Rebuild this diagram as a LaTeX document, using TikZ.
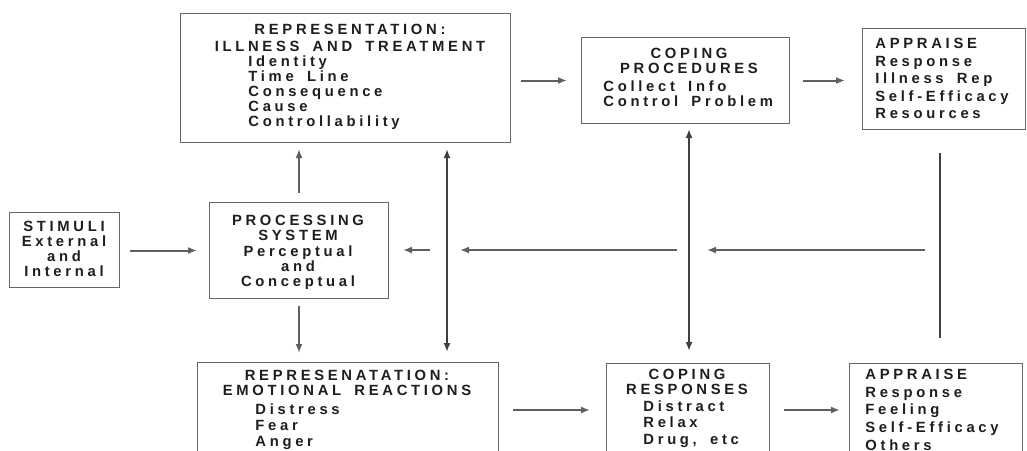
\documentclass[tikz,border=0pt]{standalone}
\usepackage{fontspec}
\setmainfont{Liberation Sans}[LetterSpace=25, WordSpace=1.7]
\usetikzlibrary{arrows.meta}
\newcommand{\fs}[1]{\fontsize{7.4}{#1}\selectfont\bfseries}
\definecolor{ink}{RGB}{30,30,30}
\definecolor{wire}{RGB}{95,95,95}
\begin{document}
\begin{tikzpicture}[x=0.5pt, y=-0.5pt,
  box/.style={draw=gray!80!black, line width=0.5pt, inner sep=0pt, anchor=north west},
  txt/.style={text=ink, inner sep=0pt, align=center, anchor=north, font=\fs{7.6}},
  lst/.style={text=ink, inner sep=0pt, align=left, anchor=north west, font=\fs{7.6}},
  arr/.style={-{Latex[length=4.5pt,width=3.5pt]}, draw=wire, line width=1pt},
  dbl/.style={{Latex[length=4.5pt,width=3.5pt]}-{Latex[length=4.5pt,width=3.5pt]}, draw=ink!85, line width=1.4pt},
  feed/.style={draw=ink!85, line width=1.4pt}]
\clip (0,0) rectangle (1027,450);
\fill[white] (0,0) rectangle (1027,450);

% boxes
\node[box, minimum width=110pt*0.5, minimum height=75pt*0.5] (stim) at (9,212) {};
\node[box, minimum width=179pt*0.5, minimum height=96pt*0.5] (proc) at (209,202) {};
\node[box, minimum width=330pt*0.5, minimum height=129pt*0.5] (illrep) at (180,13) {};
\node[box, minimum width=208pt*0.5, minimum height=86pt*0.5] (cproc) at (581,37) {};
\node[box, minimum width=163pt*0.5, minimum height=101pt*0.5] (appr1) at (862,28) {};
\node[box, minimum width=301pt*0.5, minimum height=120pt*0.5] (emrep) at (197,362) {};
\node[box, minimum width=163pt*0.5, minimum height=120pt*0.5] (cresp) at (606,363) {};
\node[box, minimum width=173pt*0.5, minimum height=120pt*0.5] (appr2) at (849,363) {};

% texts
\node[txt, font=\fs{7.5}] (stimtxt) at (64,221) {STIMULI\\External\\and\\Internal};
\node[txt] (proctxt) at (298,215) {PROCESSING\\SYSTEM\\Perceptual\\and\\Conceptual};
\node[txt, font=\fs{8.5}] (illhead) at (350,24) {REPRESENTATION:\\ILLNESS AND TREATMENT};
\node[lst] (illlist) at (248,55) {Identity\\Time Line\\Consequence\\Cause\\Controllability};
\node[txt, font=\fs{7.3}] (cprochead) at (689,48) {COPING\\PROCEDURES};
\node[lst] (cproclist) at (603,80) {Collect Info\\Control Problem};
\node[lst, font=\fs{8.75}] (appr1txt) at (875,38) {APPRAISE\\Response\\Illness Rep\\Self-Efficacy\\Resources};
\node[txt] (emhead) at (347,370) {REPRESENATATION:\\EMOTIONAL REACTIONS};
\node[lst, font=\fs{8.2}] (emlist) at (255,403) {Distress\\Fear\\Anger};
\node[txt] (cresphead) at (687,369) {COPING\\RESPONSES};
\node[lst, font=\fs{8.3}] (cresplist) at (643,400) {Distract\\Relax\\Drug, etc};
\node[lst, font=\fs{8.8}] (appr2txt) at (865,369) {APPRAISE\\Response\\Feeling\\Self-Efficacy\\Others};

% helper points
\coordinate (lv) at (447,250);
\coordinate (rv) at (689,250);
\coordinate (fb) at (940,338);

% arrows
\draw[arr, shorten <=5pt, shorten >=6pt] (stim.east |- proc.west) -- (proc.west);
\draw[arr, shorten <=4.5pt, shorten >=3pt] (proc.north) -- (proc.north |- illrep.south);
\draw[arr, shorten <=3.5pt, shorten >=4.5pt] (proc.south) -- (proc.south |- emrep.north);
\draw[dbl, shorten <=3pt, shorten >=5pt] (lv |- illrep.south) -- (lv |- emrep.north);
\draw[arr, shorten <=5pt, shorten >=7pt] (illrep.east |- cproc.west) -- (cproc.west);
\draw[arr, shorten <=6.5pt, shorten >=8.5pt] (cproc.east |- cproc.west) -- (appr1.west |- cproc.west);
\draw[dbl, shorten <=2.5pt, shorten >=6pt] (rv |- cproc.south) -- (rv |- cresp.north);
\draw[feed, shorten <=11.5pt] (fb |- appr1.south) -- (fb);
\draw[arr, shorten <=7.5pt, shorten >=9pt] (fb |- rv) -- (rv);
\draw[arr, shorten <=6pt, shorten >=6.5pt] (rv) -- (lv);
\draw[arr, shorten <=8.5pt, shorten >=7pt] (lv) -- (proc.east |- lv);
\draw[arr, shorten <=7pt, shorten >=8pt] (emrep.east |- 0,410) -- (cresp.west |- 0,410);
\draw[arr, shorten <=7pt, shorten >=4.5pt] (cresp.east |- 0,410) -- (appr2.west |- 0,410);
\end{tikzpicture}
\end{document}
